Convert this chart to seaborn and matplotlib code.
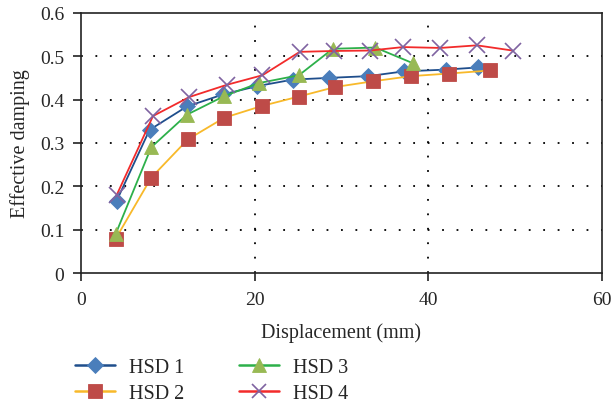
import matplotlib
matplotlib.use("Agg")
import matplotlib.pyplot as plt
from matplotlib.lines import Line2D
import seaborn as sns
import pandas as pd

# Displacement (mm) and effective damping for each hysteretic damper
hsd1_x = [4.1, 7.9, 12.2, 16.4, 20.3, 24.4, 28.6, 33.1, 37.2, 42.0, 45.7]
hsd1_y = [0.166, 0.330, 0.384, 0.412, 0.431, 0.446, 0.450, 0.454, 0.465, 0.469, 0.474]

hsd2_x = [4.0, 8.1, 12.3, 16.5, 20.8, 25.1, 29.3, 33.6, 38.0, 42.4, 47.1]
hsd2_y = [0.079, 0.220, 0.308, 0.358, 0.385, 0.407, 0.429, 0.442, 0.454, 0.460, 0.467]

hsd3_x = [4.0, 8.1, 12.2, 16.5, 20.5, 25.1, 29.0, 33.9, 38.2]
hsd3_y = [0.090, 0.290, 0.365, 0.408, 0.438, 0.456, 0.517, 0.520, 0.484]

hsd4_x = [4.1, 8.3, 12.5, 16.8, 20.9, 25.2, 29.2, 33.3, 37.1, 41.4, 45.6, 49.7]
hsd4_y = [0.179, 0.362, 0.406, 0.434, 0.456, 0.510, 0.512, 0.513, 0.521, 0.519, 0.525, 0.513]

labels = ["HSD 1", "HSD 2", "HSD 3", "HSD 4"]
x_ticks = [0, 20, 40, 60]
y_ticks = [0, 0.1, 0.2, 0.3, 0.4, 0.5, 0.6]

sns.set_style("white")
plt.rcParams["font.family"] = ["Liberation Serif", "DejaVu Serif"]

fig = plt.figure(figsize=(6.13, 4.06), dpi=100)
ax = fig.add_axes([0.132, 0.325, 0.850, 0.641])

styles = [
    dict(line="#1F4E8C", marker="D", face="#4A7EBB", ms=8.5),
    dict(line="#F8B92A", marker="s", face="#BE4B48", ms=10.5),
    dict(line="#2DB04A", marker="^", face="#98B954", ms=10.5),
    dict(line="#F22B2B", marker="x", face="#7F63A1", ms=11),
]
series = [(hsd1_x, hsd1_y), (hsd2_x, hsd2_y), (hsd3_x, hsd3_y), (hsd4_x, hsd4_y)]

handles = []
for (xs, ys), st, lab in zip(series, styles, labels):
    df = pd.DataFrame({"Displacement": xs, "Damping": ys})
    mew = 1.2 if st["marker"] == "x" else 0.6
    sns.lineplot(data=df, x="Displacement", y="Damping", ax=ax, sort=False,
                 color=st["line"], lw=1.3, marker=st["marker"], ms=st["ms"],
                 markerfacecolor=st["face"], markeredgecolor=st["face"],
                 markeredgewidth=mew)
    handles.append(Line2D([], [], color=st["line"], lw=1.8, marker=st["marker"],
                          ms=st["ms"] * 0.95, markerfacecolor=st["face"],
                          markeredgecolor=st["face"], markeredgewidth=mew))

ax.set_xlim(0, 60)
ax.set_ylim(0, 0.6)
ax.set_xticks(x_ticks)
ax.set_yticks(y_ticks)
ax.set_yticklabels(["0", "0.1", "0.2", "0.3", "0.4", "0.5", "0.6"])
ax.set_xticklabels([str(t) for t in x_ticks])

# dotted reference lines
for yv in [0.1, 0.2, 0.3, 0.4, 0.5]:
    ax.axhline(yv, color="black", lw=1.3, ls=(0, (1, 7)), zorder=0)
for xv in [20, 40]:
    ax.axvline(xv, color="black", lw=1.3, ls=(0, (1, 7)), zorder=0)

for sp in ax.spines.values():
    sp.set_color("#222222")
    sp.set_linewidth(1.2)

ax.tick_params(axis="both", which="major", direction="out", length=6, width=1.2,
               color="#222222", labelsize=14, left=True, bottom=True)
ax.tick_params(axis="x", pad=7)
ax.tick_params(axis="y", pad=6)
ax.set_xlabel("Displacement (mm)", fontsize=14.5, labelpad=10)
ax.set_ylabel("Effective damping", fontsize=14.5, labelpad=7)

fig.legend(handles, labels, loc="upper left", bbox_to_anchor=(0.122, 0.117),
           ncol=2, frameon=False, fontsize=14.5, handlelength=2.0,
           columnspacing=2.7, labelspacing=0.38, handletextpad=0.7,
           borderaxespad=0, borderpad=0)

fig.savefig("out.png", dpi=100)
